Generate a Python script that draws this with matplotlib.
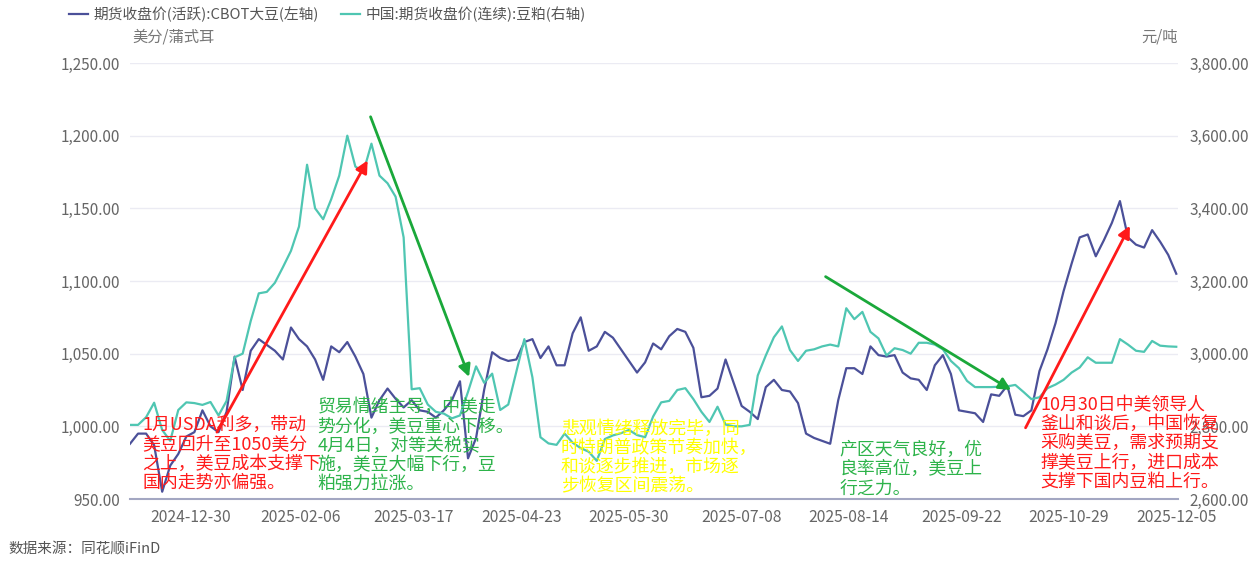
import pandas as pd
import matplotlib
matplotlib.use('Agg')
import matplotlib.pyplot as plt
import matplotlib.dates as mdates
from matplotlib.ticker import FuncFormatter

plt.rcParams['font.family'] = ['Noto Sans CJK SC', 'DejaVu Sans']

# CBOT soybean active contract close (US cents / bushel), left axis
cbot_close = [
    988, 995, 995, 987, 955, 973, 981, 993, 996, 1011,
    1000, 996, 1010, 1048, 1025, 1052, 1060, 1056, 1052, 1046,
    1068, 1060, 1055, 1046, 1032, 1055, 1051, 1058, 1048, 1036,
    1006, 1018, 1026, 1019, 1013, 1018, 1011, 1010, 1006, 1011,
    1018, 1031, 978, 992, 1025, 1051, 1047, 1045, 1046, 1058,
    1060, 1047, 1055, 1042, 1042, 1064, 1075, 1052, 1055, 1065,
    1061, 1053, 1045, 1037, 1044, 1057, 1053, 1062, 1067, 1065,
    1054, 1020, 1021, 1026, 1046, 1030, 1014, 1010, 1005, 1027,
    1032, 1025, 1024, 1016, 995, 992, 990, 988, 1018, 1040,
    1040, 1036, 1055, 1049, 1048, 1049, 1037, 1033, 1032, 1025,
    1042, 1049, 1036, 1011, 1010, 1009, 1003, 1022, 1021, 1028,
    1008, 1007, 1011, 1038, 1053, 1071, 1093, 1112, 1130, 1132,
    1117, 1128, 1140, 1155, 1130, 1125, 1123, 1135, 1127, 1118,
    1105,
]

# China soybean meal continuous close (yuan / ton), right axis
meal_close = [
    2804, 2804, 2825, 2865, 2790, 2760, 2845, 2866, 2864, 2859,
    2867, 2830, 2870, 2990, 3000, 3090, 3166, 3170, 3195, 3238,
    3283, 3350, 3520, 3400, 3370, 3425, 3490, 3600, 3515, 3500,
    3578, 3490, 3469, 3432, 3320, 2902, 2905, 2860, 2840, 2835,
    2822, 2830, 2895, 2965, 2920, 2945, 2845, 2860, 2950, 3040,
    2935, 2770, 2753, 2749, 2780, 2755, 2740, 2730, 2705, 2765,
    2775, 2781, 2790, 2776, 2770, 2827, 2866, 2870, 2900, 2905,
    2875, 2840, 2812, 2854, 2805, 2800, 2800, 2804, 2940, 2995,
    3045, 3075, 3010, 2980, 3008, 3012, 3020, 3025, 3020, 3125,
    3095, 3115, 3060, 3042, 2995, 3015, 3010, 3000, 3030, 3030,
    3025, 3012, 2980, 2960, 2925, 2908, 2908, 2908, 2909, 2910,
    2914, 2895, 2875, 2880, 2905, 2915, 2928, 2948, 2962, 2990,
    2975, 2975, 2975, 3040, 3025, 3008, 3005, 3035, 3022, 3020,
    3019,
]

tick_dates = ['2024-12-30', '2025-02-06', '2025-03-17', '2025-04-23', '2025-05-30',
              '2025-07-08', '2025-08-14', '2025-09-22', '2025-10-29', '2025-12-05']
left_ticks = [950, 1000, 1050, 1100, 1150, 1200, 1250]
right_ticks = [2600, 2800, 3000, 3200, 3400, 3600, 3800]

cbot_label = '期货收盘价(活跃):CBOT大豆(左轴)'
meal_label = '中国:期货收盘价(连续):豆粕(右轴)'

notes = [
    ('1月USDA利多，带动\n美豆回升至1050美分\n之上，美豆成本支撑下\n国内走势亦偏强。', 0.012, 0.190, '#ff1a1a'),
    ('贸易情绪主导，中美走\n势分化，美豆重心下移。\n4月4日，对等关税实\n施，美豆大幅下行，豆\n粕强力拉涨。', 0.179, 0.231, '#2db34a'),
    ('悲观情绪释放完毕，同\n时特朗普政策节奏加快，\n和谈逐步推进，市场逐\n步恢复区间震荡。', 0.411, 0.181, '#ffff00'),
    ('产区天气良好，优\n良率高位，美豆上\n行乏力。', 0.677, 0.133, '#2db34a'),
    ('10月30日中美领导人\n釜山和谈后，中国恢复\n采购美豆，需求预期支\n撑美豆上行，进口成本\n支撑下国内豆粕上行。', 0.869, 0.236, '#ff1a1a'),
]

# (start date, start value, end date, end value, colour) on the left axis
arrows = [
    ('2025-01-08', 996, '2025-03-01', 1183, '#ff1a1a'),
    ('2025-03-02', 1213, '2025-04-05', 1034, '#1aa83a'),
    ('2025-08-06', 1103, '2025-10-09', 1025, '#1aa83a'),
    ('2025-10-14', 999, '2025-11-19', 1138, '#ff1a1a'),
]

dates = pd.date_range('2024-12-09', '2025-12-05', periods=len(cbot_close))

fig = plt.figure(figsize=(12.6, 5.63), dpi=100)
ax = fig.add_axes([130 / 1260, 64 / 563, 1048 / 1260, 436 / 563])
ax2 = ax.twinx()

l1, = ax.plot(dates, cbot_close, color='#4b5099', lw=1.6, zorder=3)
l2, = ax2.plot(dates, meal_close, color='#4fc6b2', lw=1.6, zorder=2)

ax.set_xlim(dates[0], dates[-1] + pd.Timedelta(days=0.6))
ax.set_ylim(950, 1250)
ax2.set_ylim(2600, 3800)
ax.set_yticks(left_ticks)
ax2.set_yticks(right_ticks)
ax.set_xticks(pd.to_datetime(tick_dates))
ax.set_xticklabels(tick_dates)

fmt = FuncFormatter(lambda v, p: f'{v:,.2f}')
ax.yaxis.set_major_formatter(fmt)
ax2.yaxis.set_major_formatter(fmt)

ax.grid(axis='y', color='#ebebf3', lw=1)
ax.set_axisbelow(True)
for s in ['top', 'left', 'right']:
    ax.spines[s].set_visible(False)
for s in ax2.spines.values():
    s.set_visible(False)
ax.spines['bottom'].set_color('#a3a7c2')
ax.spines['bottom'].set_linewidth(1.5)

ax.tick_params(axis='y', length=0, pad=7, labelsize=11, labelcolor='#666666')
ax2.tick_params(axis='y', length=0, pad=8, labelsize=11, labelcolor='#666666')
ax.tick_params(axis='x', length=0, pad=7, labelsize=11.3, labelcolor='#666666')

for txt, x, y, c in notes:
    ax2.text(x, y, txt, transform=ax2.transAxes, color=c, fontsize=12.9,
             va='top', ha='left', linespacing=1.08, zorder=6)

for d0, v0, d1, v1, c in arrows:
    start = (mdates.date2num(pd.Timestamp(d0)), v0)
    end = (mdates.date2num(pd.Timestamp(d1)), v1)
    ax2.annotate('', xy=end, xytext=start,
                 xycoords=ax.transData, textcoords=ax.transData,
                 arrowprops=dict(arrowstyle='-|>', color=c, lw=2,
                                 mutation_scale=18, shrinkA=0, shrinkB=0),
                 zorder=5)

fig.legend([l1, l2], [cbot_label, meal_label], loc='upper left',
           bbox_to_anchor=(56 / 1260, 1.012), ncol=2, frameon=False, fontsize=10.6,
           handlelength=1.3, handletextpad=0.35, columnspacing=1.5,
           labelcolor='#555555')

fig.text(132 / 1260, 1 - 37 / 563, '美分/蒲式耳', ha='left', va='center',
         fontsize=11, color='#777777')
fig.text(1178 / 1260, 1 - 37 / 563, '元/吨', ha='right', va='center',
         fontsize=11, color='#777777')
fig.text(8 / 1260, 1 - 550 / 563, '数据来源：同花顺iFinD', ha='left', va='center',
         fontsize=10.5, color='#555555')

fig.savefig('out.png', dpi=100)
